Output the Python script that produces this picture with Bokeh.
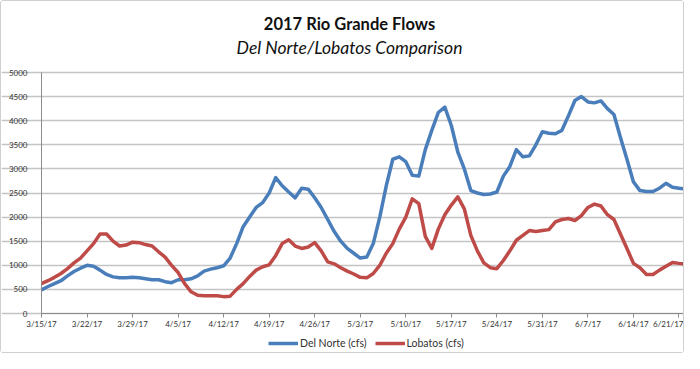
import pandas as pd
from bokeh.plotting import figure
from bokeh.models import Range1d, FixedTicker, Legend, LegendItem, Label
from bokeh.embed import file_html
from bokeh.resources import INLINE

start_date = "2017-03-15"

del_norte = [490, 560, 620, 680, 780, 870, 940, 1000, 980, 900,
             810, 760, 740, 740, 750, 740, 720, 700, 700, 660,
             640, 700, 700, 720, 780, 880, 920, 950, 990, 1150,
             1450, 1800, 2000, 2200, 2300, 2500, 2820, 2650, 2520, 2400,
             2600, 2580, 2400, 2200, 1950, 1700, 1500, 1350, 1250, 1150,
             1170, 1450, 2000, 2650, 3200, 3250, 3150, 2870, 2850, 3400,
             3800, 4170, 4280, 3900, 3350, 3000, 2550, 2500, 2470, 2480,
             2520, 2850, 3050, 3400, 3250, 3270, 3500, 3770, 3740, 3730,
             3800, 4100, 4420, 4500, 4390, 4370, 4410, 4250, 4130, 3650,
             3200, 2730, 2550, 2530, 2530, 2600, 2700, 2620, 2600, 2580]

lobatos = [620, 680, 750, 830, 930, 1050, 1150, 1300, 1450, 1650,
           1650, 1500, 1400, 1420, 1480, 1470, 1430, 1400, 1280, 1170,
           1000, 850, 620, 450, 380, 370, 370, 370, 350, 360,
           500, 620, 770, 900, 970, 1010, 1200, 1450, 1530, 1400,
           1350, 1380, 1470, 1300, 1070, 1030, 950, 880, 820, 750,
           740, 830, 1000, 1250, 1450, 1750, 2000, 2380, 2280, 1600,
           1350, 1750, 2050, 2250, 2420, 2170, 1620, 1300, 1050, 950,
           930, 1100, 1300, 1520, 1620, 1720, 1700, 1720, 1740, 1900,
           1950, 1970, 1930, 2030, 2200, 2270, 2230, 2050, 1950, 1650,
           1350, 1040, 950, 810, 810, 900, 980, 1060, 1040, 1030]

title_text = "2017 Rio Grande Flows"
subtitle_text = "Del Norte/Lobatos Comparison"
series_names = ["Del Norte (cfs)", "Lobatos (cfs)"]

dates = pd.date_range(start_date, periods=len(del_norte), freq="D")
day_index = list(range(len(dates)))
tick_days = list(range(0, len(dates), 7))
tick_labels = {i: f"{dates[i].month}/{dates[i].day}/{dates[i].year % 100}" for i in tick_days}
Y_MAX = 5000
y_ticks = list(range(0, Y_MAX + 1, 500))

# layout (pixels): whole canvas is the frame; the plotting area is placed inside it
W, H = 684, 353
AREA_L, AREA_T, AREA_B = 40, 71, 312
last_day = day_index[-1]
px_per_day = (W - AREA_L) / last_day
units_per_px = Y_MAX / (AREA_B - AREA_T)
x_range = Range1d(-AREA_L / px_per_day, last_day)
y_range = Range1d(-(H - AREA_B) * units_per_px, Y_MAX + AREA_T * units_per_px)

FONT = "Lato"

p = figure(width=W, height=H, output_backend="svg", toolbar_location=None, title=None,
           x_range=x_range, y_range=y_range,
           min_border_left=0, min_border_right=0, min_border_top=0, min_border_bottom=0)
p.styles = {"border": "1px solid #d0d0d0", "border-radius": "3px"}
p.outline_line_color = None
p.background_fill_color = "white"
p.border_fill_color = "white"

p.xgrid.grid_line_color = None
p.ygrid.ticker = FixedTicker(ticks=y_ticks)
p.ygrid.bounds = (0, last_day)
p.ygrid.grid_line_color = "#c4c4c4"
p.ygrid.grid_line_width = 1.5

r1 = p.line(day_index, del_norte, line_color="#4a7ebb", line_width=3.5, line_join="round")
r2 = p.line(day_index, lobatos, line_color="#be4b48", line_width=3.5, line_join="round")

xa = p.xaxis[0]
xa.fixed_location = 0
xa.bounds = (0, last_day)
xa.ticker = FixedTicker(ticks=tick_days)
xa.major_label_overrides = tick_labels
xa.minor_tick_line_color = None
xa.major_tick_in = 0
xa.major_tick_out = 4
xa.major_label_standoff = 1
xa.axis_line_color = "#8c8c8c"
xa.major_tick_line_color = "#8c8c8c"

ya = p.yaxis[0]
ya.fixed_location = 0
ya.bounds = (0, Y_MAX)
ya.ticker = FixedTicker(ticks=y_ticks)
ya.minor_tick_line_color = None
ya.major_tick_line_color = None
ya.major_label_standoff = 8
ya.axis_line_color = "#8c8c8c"

for ax in (xa, ya):
    ax.major_label_text_font = FONT
    ax.major_label_text_font_size = "8px"
    ax.major_label_text_color = "#333333"

p.add_layout(Label(x=348, y=H - 22, x_units="screen", y_units="screen",
                   text=title_text, text_align="center", text_baseline="middle",
                   text_font=FONT, text_font_style="bold", text_font_size="16.5px",
                   text_color="#111111"))
p.add_layout(Label(x=348, y=H - 46, x_units="screen", y_units="screen",
                   text=subtitle_text, text_align="center", text_baseline="middle",
                   text_font=FONT, text_font_style="italic", text_font_size="17.5px",
                   text_color="#111111"))

legend = Legend(items=[LegendItem(label=series_names[0], renderers=[r1]),
                       LegendItem(label=series_names[1], renderers=[r2])],
                orientation="horizontal", location=(267, 5),
                glyph_width=30, glyph_height=12, label_height=12, label_standoff=2, spacing=8,
                padding=0, margin=0, border_line_color=None, background_fill_alpha=0,
                label_text_font=FONT, label_text_font_size="10.5px", label_text_color="#333333")
p.add_layout(legend)

open("out.html", "w").write(file_html(p, INLINE))
